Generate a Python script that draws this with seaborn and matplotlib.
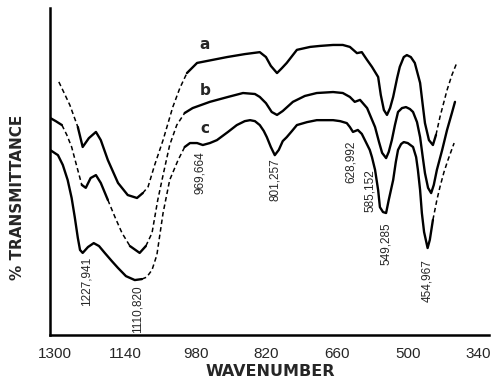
import numpy as np
import pandas as pd
import matplotlib
matplotlib.use("Agg")
import matplotlib.pyplot as plt
import seaborn as sns

sns.set_theme(style="white")
plt.rcParams['font.family'] = ['Liberation Sans', 'DejaVu Sans']

# ------------------------------------------------------------
# spectra (wavenumber, % transmittance, arbitrary offset)
# ------------------------------------------------------------
a_wn = [1290, 1279, 1265, 1247, 1236, 1222, 1206, 1195, 1179, 1156, 1134, 1113,
        1100, 1088, 1073, 1054, 1032, 1016, 1000, 977, 943, 909, 869, 835, 821,
        810, 796, 785, 774, 751, 721, 699, 669, 647, 631, 615, 604, 592, 581,
        567, 561, 554, 547, 540, 533, 524, 518, 509, 502, 493, 484, 472, 466,
        461, 452, 443, 436, 427, 411, 400, 389]
a_t = [77.4, 74.3, 70.3, 63.6, 57.5, 60.2, 62.1, 59.6, 53.5, 46.5, 42.8, 41.9,
       43.4, 45.3, 52.0, 59.6, 69.7, 75.5, 80.1, 83.2, 84.1, 85.0, 85.9, 86.5, 85.0,
       82.3, 80.1, 81.6, 83.2, 87.2, 88.1, 88.4, 88.7, 88.7, 88.1, 86.2, 86.5, 84.1, 82.0,
       78.9, 73.4, 68.8, 67.3, 69.4, 72.8, 78.6, 82.0, 85.0, 85.6, 85.0, 83.2, 77.1, 70.3,
       64.8, 59.6, 58.1, 61.2, 66.7, 74.9, 79.5, 83.2]

b_wn = [1310, 1297, 1283, 1272, 1261, 1249, 1238, 1229, 1218, 1206, 1195, 1179,
        1163, 1147, 1129, 1107, 1093, 1079, 1066, 1054, 1039, 1023, 1005, 987,
        948, 907, 873, 846, 835, 821, 808, 796, 783, 760, 733, 706, 669, 647,
        631, 620, 608, 592, 574, 565, 558, 549, 543, 536, 529, 522, 513, 504,
        495, 488, 479, 472, 466, 461, 454, 447, 441, 434, 422, 411, 400, 393]
b_t = [66.4, 65.4, 64.2, 61.2, 57.5, 51.4, 45.9, 45.0, 48.0, 48.9, 46.5, 41.3,
       36.1, 31.2, 27.2, 25.1, 27.2, 31.2, 41.3, 48.9, 58.1, 64.2, 67.9, 69.4,
       71.3, 72.8, 74.0, 73.7, 72.8, 70.9, 68.2, 67.3, 68.5, 71.3, 73.1, 74.0, 74.3, 74.0,
       72.8, 71.3, 71.9, 69.4, 63.6, 59.0, 55.7, 54.1, 56.0, 59.6, 64.2, 68.2, 69.4, 69.7,
       69.1, 68.2, 65.1, 60.5, 54.4, 49.5, 45.0, 43.4, 45.9, 50.5, 56.6, 62.7, 67.9, 71.3]

c_wn = [1310, 1292, 1281, 1270, 1261, 1254, 1247, 1242, 1236, 1224, 1211, 1199,
        1186, 1170, 1156, 1138, 1118, 1102, 1091, 1079, 1068, 1054, 1039, 1020,
        1005, 993, 977, 964, 948, 932, 907, 887, 869, 857, 846, 835, 826, 819,
        810, 801, 792, 783, 774, 762, 751, 728, 706, 669, 653, 638, 631, 624,
        613, 604, 597, 586, 581, 574, 567, 563, 556, 549, 543, 533, 527, 522,
        515, 509, 500, 488, 481, 477, 472, 468, 463, 455, 450, 443, 434, 427,
        418, 409, 395]
c_t = [56.6, 55.0, 52.0, 47.4, 41.9, 36.1, 29.7, 26.0, 25.1, 26.9, 28.1, 27.2,
       25.1, 22.6, 20.5, 18.0, 16.8, 17.1, 17.7, 19.9, 24.5, 37.3, 47.4, 53.5,
       57.5, 58.7, 58.7, 58.1, 58.7, 59.6, 62.1, 64.2, 65.4, 65.7, 65.4, 64.2, 62.4, 60.5,
       57.5, 55.0, 56.6, 59.3, 60.5, 62.4, 64.2, 65.1, 65.7, 65.7, 65.4, 64.8, 63.6, 62.1,
       62.7, 61.5, 59.6, 56.6, 54.4, 50.5, 44.3, 39.1, 37.6, 37.3, 41.3, 47.4, 52.9, 56.6,
       58.4, 59.0, 58.7, 57.5, 54.4, 50.5, 44.3, 37.3, 31.5, 26.6, 29.1, 35.2, 41.3, 45.3,
       49.8, 53.5, 58.7]

# stretches where the trace in the scan is broken / dashed (high, low wavenumber)
a_dashed = [(1292, 1245), (1098, 995), (432, 380)]
b_dashed = [(1285, 1236), (1185, 1128), (1098, 1000)]
c_dashed = [(1100, 1000), (440, 390)]

# curve letters
curve_names = ['a', 'b', 'c']
name_wn = [959, 959, 959]
name_t = [88.7, 74.9, 63.3]

# peak labels (wavenumber, height of label centre)
peak_wn = [1227.941, 1110.820, 969.664, 801.257, 628.992, 585.152, 549.285, 454.967]
peak_lab_t = [16.5, 8.0, 49.8, 47.4, 52.9, 44.3, 27.8, 16.8]

x_ticks = [1300, 1140, 980, 820, 660, 500, 340]


def draw_trace(ax, wn, t, spans):
    wn = np.asarray(wn, dtype=float)
    t = np.asarray(t, dtype=float)
    mid = (wn[:-1] + wn[1:]) / 2
    dashed = np.array([any(lo <= m <= hi for hi, lo in spans) for m in mid])
    start = 0
    for i in range(1, len(dashed) + 1):
        if i == len(dashed) or dashed[i] != dashed[start]:
            seg = slice(start, i + 1)
            if dashed[start]:
                sns.lineplot(x=wn[seg], y=t[seg], sort=False, estimator=None, ax=ax,
                             color='black', lw=1.1, linestyle=(0, (3, 2)))
            else:
                sns.lineplot(x=wn[seg], y=t[seg], sort=False, estimator=None, ax=ax,
                             color='black', lw=1.7)
            start = i


fig = plt.figure(figsize=(4.91, 3.81), dpi=100)
ax = fig.add_axes([50 / 491, 1 - 335 / 381, 439 / 491, 327 / 381])

draw_trace(ax, a_wn, a_t, a_dashed)
draw_trace(ax, b_wn, b_t, b_dashed)
draw_trace(ax, c_wn, c_t, c_dashed)

for name, x, y in zip(curve_names, name_wn, name_t):
    ax.text(x, y, name, ha='center', va='center', fontsize=11, fontweight='bold',
            family=['DejaVu Sans'])

for w, y in zip(peak_wn, peak_lab_t):
    ax.text(w, y, f"{w:.3f}".replace('.', ','), rotation=90, ha='center', va='center',
            fontsize=8.5, family=['Liberation Sans Narrow', 'Liberation Sans', 'DejaVu Sans'])

ax.set_xlim(1310, 316)
ax.set_ylim(0, 100)
ax.set_xticks(x_ticks)
ax.set_xticklabels([str(v) for v in x_ticks], fontsize=11)
ax.set_yticks([])
ax.set_xlabel('')
ax.set_ylabel('')

for side in ['top', 'right']:
    ax.spines[side].set_visible(False)
for side in ['left', 'bottom']:
    ax.spines[side].set_color('black')
    ax.spines[side].set_linewidth(1.8)
ax.tick_params(axis='x', direction='out', length=6, width=1.3, color='black', pad=3)

fig.text(270 / 491, 1 - 372 / 381, 'WAVENUMBER', ha='center', va='center',
         fontsize=11.5, fontweight='bold', family=['DejaVu Sans'])
fig.text(18 / 491, 1 - 197 / 381, '% TRANSMITTANCE', ha='center', va='center',
         rotation=90, fontsize=11, fontweight='bold', family=['DejaVu Sans'])

fig.savefig('out.png', dpi=100, facecolor='white')
